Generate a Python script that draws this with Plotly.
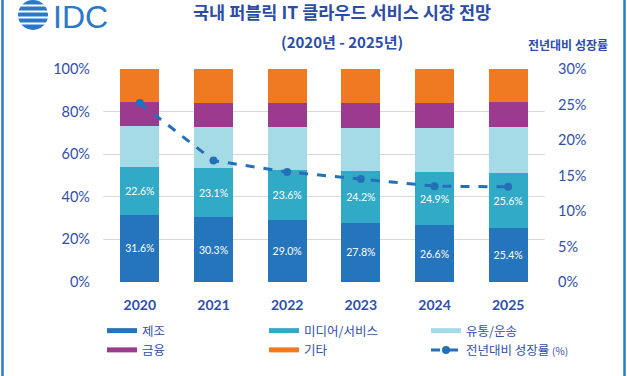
import plotly.graph_objects as go

years = ["2020", "2021", "2022", "2023", "2024", "2025"]
manufacturing = [31.6, 30.3, 29.0, 27.8, 26.6, 25.4]
media_service = [22.6, 23.1, 23.6, 24.2, 24.9, 25.6]
distribution = [19.0, 19.5, 20.2, 20.5, 21.0, 21.8]
finance = [11.2, 11.1, 11.2, 11.5, 11.5, 11.8]
other = [15.6, 16.0, 16.0, 16.0, 16.0, 15.4]
growth = [25.2, 17.1, 15.5, 14.5, 13.5, 13.4]

names = ["제조", "미디어/서비스", "유통/운송", "금융", "기타"]
colors = ["#2475BB", "#31AAC7", "#A5DBE6", "#9B3A8F", "#F07A22"]
series = [manufacturing, media_service, distribution, finance, other]
line_name = "전년대비 성장률 <span style='font-size:10px'>(%)</span>"
line_color = "#2470B8"

W, H = 627, 376
L, R, T, B = 103, 82, 69, 94
pw, ph = W - L - R, H - T - B
def px(x): return (x - L) / pw
def py(y): return (H - B - y) / ph

fig = go.Figure()
for i, (nm, col, vals) in enumerate(zip(names, colors, series)):
    show_text = i < 2
    fig.add_trace(go.Bar(
        x=years, y=vals, name=nm, marker=dict(color=col, line=dict(width=0)),
        text=[f"{v:.1f}%" for v in vals] if show_text else None,
        textposition="inside" if show_text else "none",
        insidetextanchor="middle",
        textfont=dict(color="white", size=10.5, family="Lato, Open Sans, sans-serif"),
        showlegend=False, hoverinfo="skip",
    ))

fig.add_trace(go.Scatter(
    x=years, y=growth, yaxis="y2", mode="lines+markers", name=line_name,
    line=dict(color=line_color, width=3, dash="dash"),
    marker=dict(size=8, color=line_color), showlegend=False,
))

# legend entries with wide swatches (row by row)
for nm, col in zip(names, colors):
    fig.add_trace(go.Scatter(x=[None], y=[None], mode="lines", name=nm,
                             line=dict(color=col, width=5)))
fig.add_trace(go.Scatter(x=[None], y=[None], mode="lines+markers", name=line_name,
                         line=dict(color=line_color, width=3, dash="dash"),
                         marker=dict(size=8, color=line_color)))

axis_font = dict(family="Lato, Open Sans, sans-serif", size=14.5, color="#2F4FA8")
fig.update_layout(
    width=W, height=H,
    margin=dict(l=L, r=R, t=T, b=B, autoexpand=False),
    paper_bgcolor="white", plot_bgcolor="white",
    barmode="stack", bargap=0.47,
    font=dict(family="Noto Sans CJK KR, sans-serif", color="#2F4FA8"),
    xaxis=dict(showgrid=False, tickfont=dict(family="Lato, Open Sans, sans-serif", size=14,
               color="#2F4FA8", weight="bold"), ticks="", ticklabelstandoff=13,
               showline=False),
    yaxis=dict(range=[0, 100], dtick=20, ticksuffix="%", gridcolor="#D9D9D9",
               gridwidth=1, zeroline=False, tickfont=axis_font, ticklabelstandoff=12),
    yaxis2=dict(range=[0, 30], dtick=5, ticksuffix="%", overlaying="y", side="right",
                showgrid=False, zeroline=False, tickfont=axis_font, ticklabelstandoff=12),
    legend=dict(orientation="h", x=px(102), xanchor="left", y=py(316), yanchor="top",
                entrywidth=117, traceorder="normal",
                font=dict(size=12.5, color="#2F4FA8", family="Noto Sans CJK KR, sans-serif"),
                bgcolor="rgba(0,0,0,0)", itemwidth=30),
    annotations=[
        dict(text="<b>국내 퍼블릭 IT 클라우드 서비스 시장 전망</b>", x=px(342), y=py(12),
             xref="paper", yref="paper", showarrow=False, xanchor="center", yanchor="middle",
             font=dict(size=17.5, color="#2B4DA6", family="Noto Sans CJK KR, sans-serif")),
        dict(text="<b>(2020년 - 2025년)</b>", x=px(342), y=py(41),
             xref="paper", yref="paper", showarrow=False, xanchor="center", yanchor="middle",
             font=dict(size=15, color="#2B4DA6", family="Noto Sans CJK KR, sans-serif")),
        dict(text="<b>전년대비 성장률</b>", x=px(568), y=py(45),
             xref="paper", yref="paper", showarrow=False, xanchor="center", yanchor="middle",
             font=dict(size=12, color="#2B4DA6", family="Noto Sans CJK KR, sans-serif")),
        dict(text="IDC", x=px(51), y=py(17),
             xref="paper", yref="paper", showarrow=False, xanchor="left", yanchor="middle",
             font=dict(size=32, color="#2A78C8", family="Liberation Sans, Arial, sans-serif")),
    ],
    shapes=[
        dict(type="rect", xref="paper", yref="paper", x0=px(2.5), x1=px(624.5),
             y0=py(385), y1=py(-10), line=dict(color="#2F78C4", width=2.5),
             fillcolor="rgba(0,0,0,0)", layer="above"),
        dict(type="circle", xref="paper", yref="paper", x0=px(18), x1=px(48),
             y0=py(30), y1=py(0), fillcolor="#2A78C8", line=dict(width=0)),
    ] + [
        dict(type="line", xref="paper", yref="paper", x0=px(14), x1=px(52),
             y0=py(yy), y1=py(yy), line=dict(color="white", width=2.2))
        for yy in [5.5, 11.5, 17.5, 23.5]
    ],
)

fig.write_html("out.html", config={"displayModeBar": False},
               post_script="document.body.style.margin='0';document.body.style.overflow='hidden';")
